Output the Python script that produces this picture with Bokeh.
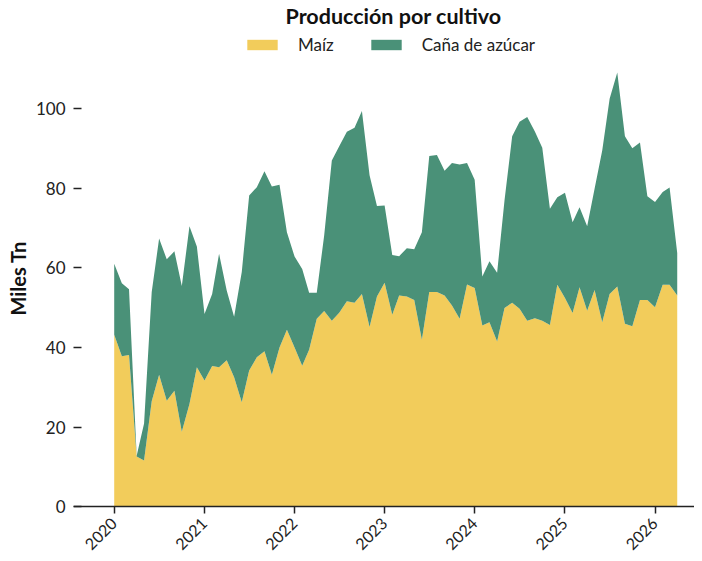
import pandas as pd
from bokeh.plotting import figure
from bokeh.models import (ColumnDataSource, Range1d, FixedTicker, DatetimeTickFormatter,
                          Legend, LegendItem, Title)
from bokeh.embed import file_html
from bokeh.resources import INLINE
import math

start_month = "2020-01-01"
n_months = 76
tick_years = [2020, 2021, 2022, 2023, 2024, 2025, 2026]
y_ticks = [0, 20, 40, 60, 80, 100]

maiz = [43.2, 37.8, 38.1, 12.6, 11.6, 26.5, 33.1, 26.6, 29.1, 18.8, 25.8, 35.0,
        31.7, 35.3, 35.0, 36.8, 32.5, 26.2, 34.2, 37.5, 39.0, 33.1, 40.0, 44.4,
        40.0, 35.4, 39.4, 47.2, 49.1, 46.7, 48.7, 51.6, 51.2, 53.4, 45.1, 52.8,
        56.2, 48.2, 53.0, 52.8, 51.9, 41.9, 53.9, 53.9, 53.0, 50.5, 47.2, 55.8,
        54.9, 45.5, 46.3, 41.5, 49.9, 51.2, 49.7, 46.7, 47.3, 46.7, 45.6, 55.7,
        52.4, 48.6, 55.1, 49.2, 54.4, 46.3, 53.4, 55.3, 45.9, 45.3, 51.9, 51.9,
        50.1, 55.7, 55.7, 53.0]

total = [61.0, 56.1, 54.6, 12.8, 20.9, 53.9, 67.3, 62.1, 64.1, 55.4, 70.4, 65.3,
         48.4, 53.4, 63.5, 54.3, 47.7, 58.9, 78.1, 80.2, 84.2, 80.4, 80.8, 68.9,
         62.8, 59.7, 53.7, 53.7, 68.1, 86.9, 90.5, 94.1, 95.1, 99.3, 83.2, 75.5,
         75.6, 63.2, 62.9, 64.9, 64.6, 68.9, 88.0, 88.3, 84.3, 86.3, 85.9, 86.3,
         82.1, 57.8, 61.6, 58.7, 76.9, 93.0, 96.6, 97.8, 94.2, 90.1, 74.8, 77.7,
         78.8, 71.4, 75.2, 70.4, 79.8, 89.4, 102.4, 109.0, 93.0, 90.0, 91.4, 77.9,
         76.5, 79.0, 80.1, 63.7]

cana = [round(t - m, 1) for t, m in zip(total, maiz)]

series_names = ["Maíz", "Caña de azúcar"]
colors = ["#F2CC5B", "#4A9178"]

dates = pd.date_range(start_month, periods=n_months, freq="MS")
src = ColumnDataSource(dict(x=dates, maiz=maiz, cana=cana))

FONT = "Lato"

p = figure(width=694, height=553, x_axis_type="datetime",
           output_backend="svg", toolbar_location=None,
           x_range=Range1d(pd.Timestamp("2019-07-20"), pd.Timestamp("2026-06-10")),
           y_range=Range1d(-11.73, 120.03),
           min_border_left=69, min_border_right=0, min_border_bottom=0,
           min_border_top=26)

renderers = p.varea_stack(stackers=["maiz", "cana"], x="x", color=colors, source=src)

p.title = Title(text="Producción por cultivo", align="left",
                text_font=FONT, text_font_size="21.5px", text_font_style="bold",
                text_color="#111111", offset=212, standoff=0)

p.add_layout(Title(text="Miles Tn", align="left", offset=238, standoff=6,
                   text_font=FONT, text_font_size="20px", text_font_style="bold",
                   text_color="#111111"), "left")

legend = Legend(items=[LegendItem(label=series_names[i], renderers=[renderers[i]])
                       for i in range(2)],
                orientation="horizontal", location=(170, 498),
                label_text_font=FONT, label_text_font_size="17px",
                label_text_color="#222222",
                glyph_width=38, glyph_height=13, label_standoff=17, spacing=33,
                border_line_color=None, background_fill_alpha=0,
                padding=0, margin=0)
p.add_layout(legend, "center")

p.outline_line_color = None
p.grid.grid_line_color = None
p.background_fill_color = "white"
p.border_fill_color = "white"

# x axis drawn at y = 0
p.xaxis.fixed_location = 0
p.xaxis.ticker = FixedTicker(ticks=[pd.Timestamp(f"{y}-01-01").timestamp() * 1000
                                    for y in tick_years])
p.xaxis.formatter = DatetimeTickFormatter(years="%Y", months="%Y", days="%Y",
                                          hours="%Y", minutes="%Y", seconds="%Y")
p.xaxis.major_label_orientation = math.pi / 4
p.xaxis.minor_tick_line_color = None
p.xaxis.major_tick_in = 0
p.xaxis.major_tick_out = 7
p.xaxis.axis_line_color = "#222222"
p.xaxis.axis_line_width = 1.5
p.xaxis.major_tick_line_color = "#222222"
p.xaxis.major_tick_line_width = 1.5
p.xaxis.major_label_text_font = FONT
p.xaxis.major_label_text_font_size = "16px"
p.xaxis.major_label_text_color = "#222222"
p.xaxis.major_label_standoff = 7

# y axis
p.yaxis.ticker = FixedTicker(ticks=y_ticks)
p.yaxis.axis_line_color = None
p.yaxis.minor_tick_line_color = None
p.yaxis.major_tick_in = 8
p.yaxis.major_tick_out = 0
p.yaxis.major_tick_line_color = "#222222"
p.yaxis.major_tick_line_width = 1.5
p.yaxis.major_label_text_font = FONT
p.yaxis.major_label_text_font_size = "17px"
p.yaxis.major_label_text_color = "#222222"
p.yaxis.major_label_standoff = 8

open("out.html", "w").write(file_html(p, INLINE))
